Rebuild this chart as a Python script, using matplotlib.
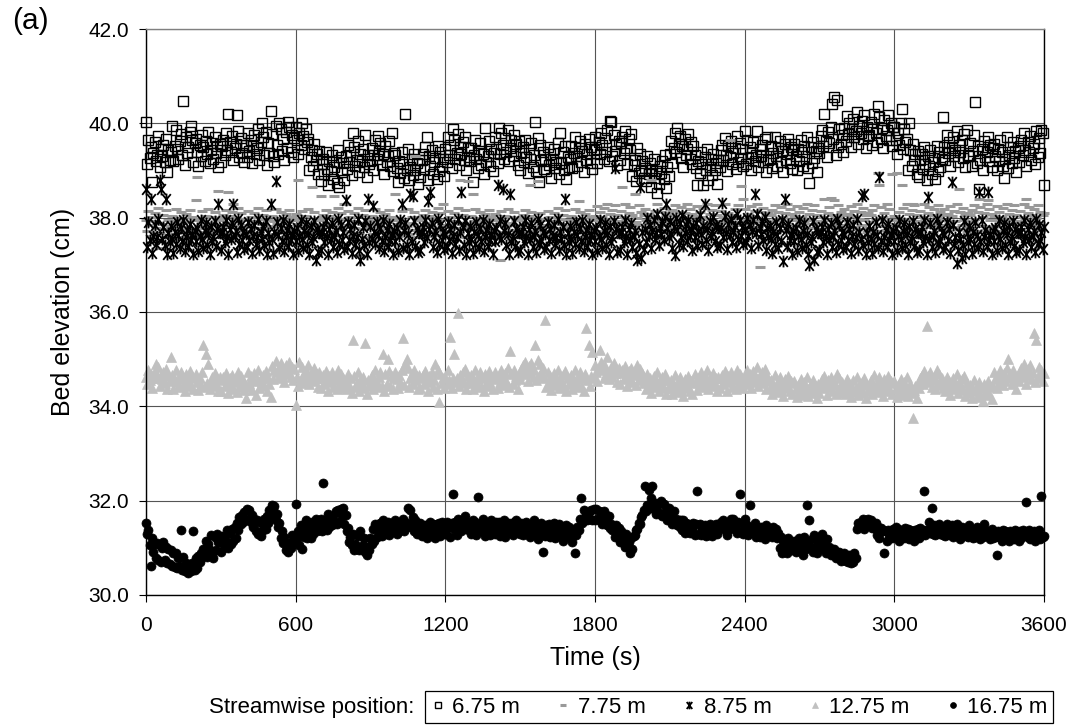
import numpy as np
import matplotlib
matplotlib.use("Agg")
import matplotlib.pyplot as plt
from matplotlib.path import Path
from matplotlib.ticker import FormatStrFormatter

plt.rcParams['font.family'] = ['Liberation Sans', 'DejaVu Sans']

# sampling times (s), one reading every 5 s
time_s = np.arange(0, 3601, 5)

# bed elevation (cm) at each streamwise position, 20 readings (100 s) per row
elev_675 = [
    40.03, 39.13, 39.65, 39.27, 39.50, 38.76, 39.37, 39.60, 39.20, 39.33, 39.73, 39.07, 39.45, 39.30, 39.55, 39.17, 39.67, 38.97, 39.43, 39.23,
    39.40, 39.95, 39.20, 39.52, 39.85, 39.45, 39.25, 39.62, 39.78, 39.32, 40.48, 39.12, 39.72, 39.38, 39.50, 39.82, 39.95, 39.65, 39.18, 39.58,
    39.67, 39.40, 39.10, 39.55, 39.30, 39.75, 39.49, 39.20, 39.63, 39.35, 39.81, 39.15, 39.43, 39.59, 39.25, 39.71, 39.37, 39.51, 39.07, 39.57,
    39.17, 39.53, 39.65, 39.33, 39.79, 39.43, 40.20, 39.61, 39.39, 39.73, 39.23, 39.47, 39.57, 40.18, 39.83, 39.29, 39.69, 39.37, 39.55, 39.19,
    39.55, 39.28, 39.80, 39.42, 39.65, 39.15, 39.52, 39.75, 39.35, 39.48, 39.88, 39.22, 39.60, 40.00, 39.70, 39.32, 39.82, 39.12, 39.58, 39.38,
    40.27, 39.78, 39.30, 39.19, 39.95, 39.55, 39.35, 40.00, 39.88, 39.42, 39.66, 39.22, 39.82, 39.48, 40.02, 39.92, 39.40, 39.75, 39.28, 39.68,
    39.92, 39.65, 39.35, 39.80, 39.55, 40.00, 39.74, 39.45, 39.88, 39.60, 39.66, 39.00, 39.28, 39.44, 39.10, 39.56, 39.22, 39.36, 38.92, 39.42,
    38.77, 39.13, 39.25, 38.93, 39.39, 39.03, 38.69, 39.21, 38.99, 39.33, 38.83, 39.07, 39.17, 38.73, 39.43, 38.65, 39.29, 38.97, 39.15, 38.79,
    39.30, 39.03, 39.55, 39.17, 39.40, 38.90, 39.80, 39.50, 39.10, 39.23, 39.63, 38.97, 39.35, 39.20, 39.45, 39.07, 39.75, 38.87, 39.33, 39.13,
    39.20, 39.48, 39.00, 39.32, 39.65, 39.25, 39.73, 39.42, 39.58, 39.12, 39.36, 38.92, 39.52, 39.18, 39.30, 39.62, 39.10, 39.80, 38.98, 39.38,
    39.32, 39.05, 38.75, 39.20, 38.95, 39.40, 39.14, 38.85, 40.20, 39.00, 39.46, 38.80, 39.08, 39.24, 38.90, 39.36, 39.02, 39.16, 38.72, 39.22,
    38.87, 39.23, 39.35, 39.03, 39.49, 39.70, 38.79, 39.31, 39.09, 39.43, 38.93, 39.17, 39.27, 38.83, 39.53, 38.99, 39.39, 39.07, 39.25, 38.89,
    39.45, 39.18, 39.70, 39.32, 39.55, 39.05, 39.88, 39.65, 39.25, 39.38, 39.78, 39.12, 39.50, 39.35, 39.60, 39.22, 39.72, 39.02, 39.48, 39.28,
    39.20, 39.48, 38.75, 39.32, 39.65, 39.25, 39.05, 39.42, 39.58, 39.12, 39.36, 38.92, 39.90, 39.18, 39.30, 39.62, 39.10, 39.45, 38.98, 39.38,
    39.72, 39.45, 39.15, 39.90, 39.35, 39.80, 39.54, 39.25, 39.68, 39.40, 39.86, 39.20, 39.48, 39.64, 39.30, 39.76, 39.42, 39.56, 39.12, 39.62,
    39.02, 39.38, 39.50, 39.18, 39.64, 39.28, 38.94, 39.46, 39.24, 39.58, 39.08, 39.32, 40.03, 38.98, 39.68, 38.75, 39.54, 39.22, 39.40, 39.04,
    39.25, 38.98, 39.50, 39.12, 39.35, 38.85, 39.22, 39.45, 39.05, 39.18, 39.58, 38.92, 39.80, 39.15, 39.40, 39.02, 39.52, 38.82, 39.28, 39.08,
    39.25, 39.53, 39.05, 39.37, 39.70, 39.30, 39.10, 39.47, 39.63, 39.17, 39.41, 38.97, 39.57, 39.23, 39.35, 39.67, 39.15, 39.50, 39.03, 39.43,
    39.72, 39.45, 39.15, 39.60, 39.35, 39.80, 39.54, 39.25, 39.68, 39.40, 39.86, 39.20, 40.05, 40.03, 39.30, 39.76, 39.42, 39.56, 39.12, 39.62,
    39.22, 39.58, 39.70, 39.38, 39.84, 39.48, 39.14, 39.66, 39.44, 39.78, 38.88, 39.12, 39.22, 38.78, 39.48, 38.94, 39.34, 39.02, 39.20, 38.84,
    39.05, 38.78, 39.30, 38.92, 39.15, 38.65, 39.02, 39.25, 38.85, 38.98, 38.52, 38.72, 39.10, 38.95, 39.20, 38.82, 39.32, 38.62, 39.08, 38.88,
    39.35, 39.63, 39.15, 39.47, 39.80, 39.40, 39.90, 39.57, 39.73, 39.27, 39.51, 39.07, 39.67, 39.33, 39.45, 39.77, 39.25, 39.60, 39.13, 39.53,
    39.32, 39.05, 38.70, 39.20, 38.95, 39.40, 39.14, 38.70, 39.28, 39.00, 39.46, 38.80, 39.08, 39.24, 38.90, 39.36, 39.02, 39.16, 38.72, 39.22,
    39.07, 39.43, 39.55, 39.23, 39.69, 39.33, 38.99, 39.51, 39.29, 39.63, 39.13, 39.37, 39.47, 39.03, 39.73, 39.19, 39.59, 39.27, 39.45, 39.09,
    39.84, 39.13, 39.65, 39.27, 39.50, 39.00, 39.37, 39.60, 39.20, 39.33, 39.84, 39.07, 39.45, 39.30, 39.55, 39.17, 39.67, 38.97, 39.70, 39.23,
    39.25, 39.53, 39.05, 39.37, 39.70, 39.30, 39.10, 39.47, 39.63, 39.17, 39.41, 38.97, 39.57, 39.23, 39.35, 39.67, 39.15, 39.50, 39.03, 39.43,
    39.57, 39.30, 39.00, 39.45, 39.20, 39.65, 39.39, 39.10, 39.53, 39.25, 39.71, 39.05, 38.73, 39.49, 39.15, 39.61, 39.27, 39.41, 38.97, 39.47,
    39.37, 39.73, 39.85, 39.53, 40.20, 39.63, 39.29, 39.81, 39.59, 39.93, 40.40, 39.67, 40.55, 39.33, 40.50, 39.49, 39.89, 39.57, 39.75, 39.39,
    39.90, 39.63, 40.15, 39.77, 40.00, 39.50, 39.87, 40.10, 39.70, 39.83, 40.23, 39.57, 39.95, 39.80, 40.05, 39.67, 40.17, 39.47, 39.93, 39.73,
    39.75, 40.03, 39.55, 39.87, 40.20, 39.80, 39.60, 40.37, 40.13, 39.67, 39.91, 39.47, 40.07, 39.73, 39.85, 40.17, 39.65, 40.00, 39.53, 39.93,
    39.92, 39.65, 39.35, 39.80, 39.55, 40.00, 40.30, 39.45, 39.88, 39.60, 39.66, 39.00, 40.00, 39.44, 39.10, 39.56, 39.22, 39.36, 38.92, 39.42,
    38.87, 39.23, 39.35, 39.03, 39.49, 39.13, 38.79, 39.31, 39.09, 39.43, 38.93, 39.17, 39.27, 38.83, 39.53, 38.99, 39.39, 39.07, 39.25, 40.14,
    39.50, 39.23, 39.75, 39.37, 39.60, 39.10, 39.47, 39.70, 39.30, 39.43, 39.83, 39.17, 39.55, 39.40, 39.65, 39.27, 39.77, 39.07, 39.85, 39.33,
    39.30, 39.58, 39.10, 39.42, 39.75, 40.46, 39.15, 39.52, 38.60, 39.22, 39.46, 39.02, 39.62, 39.28, 39.40, 39.72, 39.20, 39.55, 39.08, 39.48,
    39.57, 39.30, 39.00, 39.45, 39.20, 39.65, 39.39, 39.10, 38.85, 39.25, 39.71, 39.05, 39.33, 39.49, 39.15, 39.61, 39.27, 39.41, 38.97, 39.47,
    39.17, 39.53, 39.65, 39.33, 39.79, 39.43, 39.09, 39.61, 39.39, 39.73, 39.23, 39.47, 39.57, 39.13, 39.83, 39.29, 39.69, 39.37, 39.85, 39.80, 38.70,
]

elev_775 = [
    37.94, 37.72, 38.14, 37.84, 38.02, 37.62, 37.92, 38.10, 37.78, 37.88, 38.20, 37.68, 37.35, 37.86, 38.06, 37.76, 38.16, 37.60, 37.96, 37.80,
    37.82, 38.04, 37.66, 37.92, 38.18, 37.86, 37.70, 38.00, 38.12, 37.76, 37.95, 37.60, 38.08, 37.80, 37.90, 38.16, 37.74, 38.02, 37.64, 37.96,
    38.38, 38.86, 37.62, 37.98, 37.78, 38.14, 37.93, 37.70, 38.04, 37.82, 38.19, 37.66, 37.88, 38.01, 37.74, 38.11, 37.84, 37.95, 38.57, 38.00,
    37.68, 37.96, 38.06, 37.80, 38.17, 37.88, 38.55, 38.03, 37.85, 38.12, 38.30, 37.92, 38.00, 37.64, 38.20, 37.77, 38.09, 37.84, 37.98, 37.69,
    37.94, 37.72, 38.14, 37.84, 38.02, 37.62, 37.92, 38.10, 37.78, 37.88, 38.20, 37.68, 37.98, 37.86, 38.06, 37.76, 38.16, 37.60, 37.96, 37.80,
    37.82, 38.04, 37.66, 37.92, 38.18, 37.86, 37.70, 38.00, 38.12, 37.76, 37.95, 37.60, 38.08, 37.80, 37.90, 38.16, 37.74, 38.02, 37.64, 37.96,
    38.08, 37.86, 38.80, 37.98, 37.78, 38.14, 37.93, 37.70, 38.04, 37.82, 38.19, 37.66, 37.88, 38.65, 37.74, 38.11, 37.84, 37.95, 37.60, 38.00,
    38.45, 37.96, 38.06, 37.80, 38.17, 37.88, 37.61, 38.03, 37.85, 38.12, 37.72, 38.45, 38.00, 37.64, 38.20, 37.77, 38.09, 37.84, 37.98, 38.30,
    38.28, 37.72, 38.14, 37.84, 38.02, 37.62, 37.92, 38.10, 37.78, 37.88, 38.20, 37.68, 37.20, 37.86, 38.06, 37.76, 38.16, 37.60, 37.96, 37.80,
    37.82, 38.04, 37.66, 37.92, 38.18, 37.86, 37.70, 38.00, 38.12, 37.76, 37.95, 37.60, 38.08, 37.80, 37.90, 38.16, 37.74, 38.02, 37.64, 37.96,
    38.50, 37.86, 37.62, 37.98, 37.78, 38.14, 37.93, 37.70, 37.30, 37.82, 38.19, 37.66, 37.88, 38.01, 37.74, 38.11, 39.30, 37.95, 37.60, 38.00,
    37.68, 37.96, 38.06, 37.80, 38.17, 37.88, 37.61, 38.03, 37.85, 38.12, 37.72, 37.92, 38.00, 37.64, 38.20, 37.77, 38.09, 37.84, 38.30, 37.69,
    37.94, 37.72, 38.14, 37.84, 38.02, 37.62, 37.92, 38.10, 37.78, 37.88, 38.20, 37.68, 38.80, 37.86, 38.06, 37.76, 38.16, 37.60, 38.78, 37.80,
    37.82, 38.04, 38.50, 37.92, 38.18, 37.86, 37.70, 38.00, 38.12, 37.76, 37.95, 37.60, 38.08, 37.80, 37.90, 38.16, 37.74, 38.02, 37.64, 37.96,
    38.08, 37.86, 37.62, 37.98, 37.10, 38.14, 37.93, 37.70, 38.04, 37.82, 38.19, 37.66, 37.88, 38.01, 37.74, 38.11, 37.84, 37.95, 37.60, 38.00,
    37.68, 37.96, 38.06, 37.80, 38.17, 37.88, 37.61, 38.03, 38.70, 38.12, 37.72, 37.92, 38.00, 37.64, 38.78, 37.77, 38.09, 37.84, 37.98, 37.69,
    37.94, 37.72, 38.14, 37.84, 38.02, 37.62, 37.92, 38.10, 37.78, 37.88, 38.20, 37.68, 37.98, 37.86, 38.06, 37.76, 38.16, 37.60, 37.96, 37.80,
    37.82, 38.04, 37.66, 37.92, 38.18, 37.86, 37.70, 38.35, 38.12, 37.76, 37.95, 37.60, 38.08, 37.80, 37.90, 38.16, 37.74, 38.02, 37.64, 37.96,
    38.04, 37.82, 38.24, 37.94, 38.12, 37.72, 38.02, 38.20, 37.88, 37.98, 38.30, 37.78, 38.08, 37.96, 38.16, 37.86, 38.26, 37.70, 38.06, 37.90,
    37.92, 38.14, 38.65, 38.02, 38.28, 37.96, 37.80, 38.10, 38.22, 37.86, 38.05, 37.70, 38.50, 37.90, 38.00, 38.26, 37.84, 38.12, 37.74, 38.06,
    38.18, 37.96, 37.72, 38.08, 37.88, 38.80, 38.03, 37.80, 38.14, 37.92, 38.29, 37.76, 37.98, 38.11, 37.84, 38.21, 37.94, 38.05, 37.70, 38.10,
    37.78, 38.06, 38.16, 37.90, 38.27, 37.98, 37.71, 38.13, 37.95, 38.22, 37.82, 38.02, 38.10, 37.74, 38.30, 37.87, 38.19, 37.94, 38.08, 37.79,
    38.04, 37.82, 38.24, 37.94, 38.12, 37.72, 38.02, 38.20, 37.88, 37.98, 38.30, 37.78, 38.08, 37.96, 38.16, 37.86, 38.26, 37.70, 38.06, 37.90,
    37.92, 38.14, 37.76, 38.02, 38.28, 37.96, 37.80, 38.10, 39.65, 37.86, 38.05, 37.70, 38.18, 37.90, 38.00, 38.26, 37.84, 38.67, 37.74, 38.40,
    38.18, 37.96, 37.72, 38.08, 37.88, 38.24, 38.03, 37.80, 38.14, 37.92, 38.29, 37.76, 36.96, 38.11, 37.84, 38.21, 37.94, 38.05, 37.70, 38.10,
    37.78, 38.06, 38.16, 37.90, 38.27, 37.98, 37.71, 38.13, 37.95, 38.22, 37.82, 38.02, 38.10, 37.74, 38.30, 37.87, 38.19, 37.94, 38.08, 37.79,
    38.04, 37.82, 38.24, 37.94, 38.12, 37.72, 38.02, 38.20, 37.88, 37.98, 38.30, 37.78, 38.08, 37.96, 38.16, 37.86, 38.26, 37.70, 38.06, 37.90,
    37.92, 38.14, 37.76, 38.02, 38.40, 37.96, 37.80, 38.10, 38.22, 38.42, 38.05, 37.70, 38.38, 37.90, 38.00, 38.26, 37.84, 38.12, 37.74, 38.06,
    38.18, 37.96, 37.72, 38.08, 37.88, 38.24, 38.03, 37.80, 38.14, 37.92, 38.29, 37.76, 37.98, 38.11, 37.84, 38.21, 37.94, 38.05, 37.70, 38.10,
    37.78, 38.06, 38.16, 37.90, 38.27, 37.98, 37.71, 38.95, 38.70, 38.22, 37.82, 38.02, 38.10, 37.74, 38.30, 37.87, 38.19, 37.94, 38.92, 37.79,
    38.04, 37.82, 38.95, 37.94, 38.12, 37.72, 38.70, 38.20, 37.30, 37.98, 38.30, 37.78, 38.08, 37.96, 38.16, 38.30, 38.26, 37.70, 38.06, 37.90,
    37.92, 38.14, 37.76, 38.02, 38.28, 37.96, 37.80, 38.10, 38.22, 37.86, 38.05, 37.70, 38.18, 37.90, 38.00, 38.26, 37.84, 38.12, 37.74, 38.06,
    38.18, 37.96, 37.72, 38.08, 37.88, 38.24, 38.03, 37.80, 38.14, 37.92, 38.29, 37.76, 38.60, 38.11, 37.84, 38.21, 37.94, 38.05, 37.70, 38.10,
    37.78, 38.06, 38.16, 37.90, 38.27, 37.98, 37.71, 38.13, 38.40, 38.22, 37.82, 38.02, 38.10, 37.74, 38.30, 38.38, 38.19, 37.94, 38.08, 37.79,
    38.04, 37.82, 38.24, 37.94, 38.12, 37.72, 38.02, 38.20, 37.88, 37.98, 38.30, 37.78, 38.08, 37.96, 38.16, 37.86, 38.26, 37.70, 38.06, 37.90,
    37.92, 38.14, 37.76, 38.02, 38.28, 37.96, 38.40, 38.10, 38.22, 37.86, 38.05, 37.70, 38.18, 37.90, 38.00, 38.26, 37.84, 38.12, 37.74, 38.06, 38.10,
]

elev_875 = [
    38.60, 37.38, 37.90, 37.52, 38.40, 37.25, 37.62, 37.85, 37.45, 37.58, 37.98, 38.80, 38.60, 37.55, 37.80, 37.42, 38.40, 37.22, 37.68, 37.48,
    37.82, 37.55, 37.25, 37.70, 37.45, 37.90, 37.64, 37.35, 37.78, 37.50, 37.96, 37.30, 37.58, 37.74, 37.40, 37.86, 37.52, 37.66, 37.22, 37.72,
    37.50, 37.78, 37.30, 37.62, 37.95, 37.55, 37.35, 37.72, 37.88, 37.42, 37.66, 37.22, 37.82, 37.48, 37.60, 37.92, 37.40, 37.75, 38.28, 37.68,
    37.32, 37.68, 37.80, 37.48, 37.94, 37.58, 37.24, 37.76, 37.54, 37.88, 38.30, 37.62, 37.72, 37.28, 37.98, 37.44, 37.84, 37.52, 37.70, 37.34,
    37.65, 37.38, 37.90, 37.52, 37.75, 37.25, 37.62, 37.85, 37.45, 37.58, 37.98, 37.32, 37.70, 37.55, 37.80, 37.42, 37.92, 37.22, 37.68, 37.48,
    38.28, 37.55, 37.25, 37.70, 38.78, 37.90, 37.64, 37.35, 37.78, 37.50, 37.96, 37.30, 37.58, 37.74, 37.40, 37.86, 37.52, 37.66, 37.22, 37.72,
    37.50, 37.78, 37.30, 37.62, 37.95, 37.55, 37.35, 37.72, 37.88, 37.42, 37.66, 37.22, 37.82, 37.48, 37.60, 37.92, 37.10, 37.75, 37.28, 37.68,
    37.32, 37.68, 37.80, 37.48, 37.94, 37.58, 37.24, 37.76, 37.54, 37.88, 37.38, 37.62, 37.72, 37.28, 37.98, 37.44, 37.84, 37.52, 37.70, 37.34,
    38.37, 37.38, 37.90, 37.52, 37.75, 37.25, 37.62, 37.85, 37.45, 37.58, 37.98, 37.32, 37.10, 37.55, 37.80, 37.42, 37.92, 37.22, 38.40, 37.48,
    37.82, 37.55, 38.25, 37.70, 37.45, 37.90, 37.64, 37.35, 37.78, 37.50, 37.96, 37.30, 37.58, 37.74, 37.40, 37.86, 37.52, 37.66, 37.22, 37.72,
    37.50, 37.78, 37.30, 37.62, 37.95, 38.30, 37.35, 37.72, 37.88, 37.42, 37.66, 37.22, 38.50, 37.48, 38.45, 37.92, 37.40, 37.75, 37.28, 37.68,
    37.32, 37.68, 37.80, 37.48, 37.94, 37.58, 38.35, 37.76, 38.55, 37.88, 37.38, 37.62, 37.72, 37.28, 37.98, 37.44, 37.84, 37.52, 37.70, 37.34,
    37.65, 37.38, 37.90, 37.52, 37.75, 37.25, 37.62, 37.85, 37.45, 37.58, 37.98, 37.32, 37.70, 38.55, 37.80, 37.42, 37.92, 37.22, 37.68, 37.48,
    37.82, 37.55, 37.25, 37.70, 37.45, 37.90, 37.64, 37.35, 37.78, 37.50, 37.96, 37.30, 37.58, 37.74, 37.40, 37.86, 37.52, 37.66, 37.22, 37.72,
    37.50, 37.78, 38.70, 37.62, 37.95, 37.55, 38.60, 37.72, 37.88, 37.42, 37.66, 37.22, 38.50, 37.48, 37.60, 37.92, 37.40, 37.75, 37.28, 37.68,
    37.32, 37.68, 37.80, 37.48, 37.94, 37.58, 37.24, 37.76, 37.54, 37.88, 37.38, 37.62, 37.72, 37.28, 37.98, 37.44, 37.84, 37.52, 37.70, 37.34,
    37.65, 37.38, 37.90, 37.52, 37.75, 37.25, 37.62, 37.85, 37.45, 37.58, 37.98, 37.32, 37.70, 37.55, 37.80, 37.42, 38.40, 37.22, 37.68, 37.48,
    37.82, 37.55, 37.25, 37.70, 37.45, 37.90, 37.64, 37.35, 37.78, 37.50, 37.96, 37.30, 37.58, 37.74, 37.40, 37.86, 37.52, 37.66, 37.22, 37.72,
    37.50, 37.78, 37.30, 37.62, 37.95, 37.55, 37.35, 37.72, 37.88, 37.42, 37.66, 37.22, 37.82, 37.48, 37.60, 37.92, 39.05, 37.75, 37.28, 37.68,
    37.32, 37.68, 37.80, 37.48, 37.94, 37.58, 37.24, 37.76, 37.54, 37.88, 37.38, 37.62, 37.72, 37.25, 37.10, 37.44, 38.66, 37.15, 37.70, 37.34,
    37.75, 37.48, 38.00, 37.62, 37.85, 37.35, 37.72, 37.95, 37.55, 37.68, 38.08, 37.42, 37.80, 37.65, 37.90, 37.52, 38.02, 38.30, 37.78, 37.58,
    37.92, 37.65, 37.35, 37.80, 37.20, 38.00, 37.74, 37.45, 37.88, 37.60, 38.06, 37.40, 37.68, 37.84, 37.50, 37.96, 37.62, 37.76, 37.32, 37.82,
    37.60, 37.88, 37.40, 37.72, 38.05, 37.65, 37.45, 37.82, 38.30, 37.52, 37.76, 37.32, 37.92, 37.58, 37.70, 38.02, 37.50, 37.85, 37.38, 37.78,
    37.42, 37.78, 38.32, 37.58, 38.04, 37.68, 37.34, 37.86, 37.64, 37.98, 37.48, 37.72, 37.82, 37.38, 38.08, 37.54, 37.94, 37.62, 37.80, 37.44,
    37.75, 37.48, 38.00, 37.62, 37.85, 37.35, 37.72, 37.95, 38.50, 37.68, 38.08, 37.42, 37.80, 37.65, 37.90, 37.52, 38.02, 37.32, 37.78, 37.58,
    37.82, 37.55, 37.25, 37.70, 37.45, 37.90, 37.64, 37.35, 37.78, 37.50, 37.96, 37.08, 38.40, 37.74, 37.40, 37.86, 37.52, 37.66, 37.22, 37.72,
    37.50, 37.78, 37.30, 37.62, 37.95, 37.55, 37.35, 37.72, 37.88, 37.42, 37.66, 37.22, 37.00, 37.48, 37.60, 37.92, 37.10, 37.75, 37.28, 37.68,
    37.32, 37.68, 37.80, 37.48, 37.94, 37.58, 37.24, 37.76, 37.54, 37.88, 37.38, 37.62, 37.72, 37.28, 37.98, 37.44, 37.84, 37.52, 37.70, 37.34,
    37.65, 37.38, 37.90, 37.52, 37.75, 37.25, 37.62, 37.85, 37.45, 37.58, 37.98, 37.32, 37.70, 37.55, 38.45, 37.42, 38.50, 37.22, 37.68, 37.48,
    37.82, 37.55, 37.25, 37.70, 37.45, 37.90, 37.64, 37.35, 38.87, 37.50, 37.96, 37.30, 37.58, 37.74, 37.40, 37.86, 37.52, 37.66, 37.22, 37.72,
    37.50, 37.78, 37.30, 37.62, 37.95, 37.55, 37.35, 37.72, 37.88, 37.42, 37.66, 37.22, 37.82, 37.48, 37.60, 37.92, 37.40, 37.75, 37.28, 37.68,
    37.32, 37.68, 37.80, 37.48, 37.94, 37.58, 37.24, 38.44, 37.54, 37.88, 37.38, 37.62, 37.72, 37.28, 37.98, 37.44, 37.84, 37.52, 37.70, 37.34,
    37.65, 37.38, 37.90, 37.52, 37.75, 37.25, 38.76, 37.85, 37.45, 37.58, 37.03, 37.32, 37.70, 37.55, 37.15, 37.42, 37.92, 37.22, 37.68, 37.48,
    37.82, 37.55, 37.25, 37.70, 37.45, 37.90, 37.64, 37.35, 38.55, 37.50, 37.96, 37.30, 37.58, 37.74, 37.40, 38.55, 37.52, 37.66, 37.22, 37.72,
    37.50, 37.78, 37.30, 37.62, 37.95, 37.55, 37.35, 37.72, 37.88, 37.42, 37.66, 37.22, 37.82, 37.48, 37.60, 37.92, 37.40, 37.75, 37.28, 37.68,
    37.32, 37.68, 37.80, 37.48, 37.94, 37.58, 37.24, 37.76, 37.54, 37.88, 37.38, 37.62, 37.72, 37.28, 37.98, 37.44, 37.84, 37.52, 37.70, 37.34, 37.80,
]

elev_1275 = [
    34.63, 34.47, 34.78, 34.55, 34.69, 34.39, 34.61, 34.75, 34.90, 34.59, 34.83, 34.43, 34.66, 34.57, 34.72, 34.49, 34.79, 34.37, 34.65, 34.53,
    35.05, 34.66, 34.37, 34.56, 34.76, 34.52, 34.40, 34.62, 34.72, 34.44, 34.59, 34.32, 34.68, 34.48, 34.55, 34.74, 34.43, 34.64, 34.36, 34.60,
    34.68, 34.52, 34.34, 34.61, 34.46, 34.73, 35.30, 34.40, 35.10, 34.49, 34.90, 34.37, 34.54, 34.63, 34.43, 34.71, 34.50, 34.59, 34.32, 34.62,
    34.33, 34.55, 34.62, 34.43, 34.70, 34.49, 34.28, 34.60, 34.46, 34.67, 34.37, 34.51, 34.57, 34.31, 34.73, 34.40, 34.64, 34.45, 34.56, 34.34,
    34.17, 34.42, 34.73, 34.50, 34.64, 34.34, 34.56, 34.70, 34.25, 34.54, 34.78, 34.38, 34.61, 34.52, 34.67, 34.44, 34.74, 34.32, 34.60, 34.48,
    34.20, 34.86, 34.57, 34.76, 34.96, 34.72, 34.60, 34.82, 34.92, 34.64, 34.79, 34.52, 34.88, 34.68, 34.75, 34.94, 34.63, 34.84, 34.56, 34.80,
    34.03, 34.62, 34.44, 34.95, 34.56, 34.83, 34.67, 34.50, 34.76, 34.59, 34.87, 34.47, 34.64, 34.73, 34.53, 34.81, 34.60, 34.69, 34.42, 34.72,
    34.38, 34.60, 34.67, 34.48, 34.75, 34.54, 34.33, 34.65, 34.51, 34.72, 34.42, 34.56, 34.62, 34.36, 34.78, 34.45, 34.69, 34.50, 34.61, 34.39,
    34.53, 34.37, 34.68, 34.45, 34.59, 34.29, 35.40, 34.65, 34.41, 34.49, 34.73, 34.33, 34.56, 34.47, 34.62, 34.39, 35.35, 34.27, 34.55, 34.43,
    34.49, 34.66, 34.37, 34.56, 34.76, 34.52, 34.40, 34.62, 34.72, 34.44, 35.10, 34.32, 34.68, 34.48, 35.00, 34.74, 34.43, 34.64, 34.36, 34.60,
    34.73, 34.57, 34.39, 34.66, 34.51, 34.78, 35.45, 34.45, 34.90, 35.00, 34.82, 34.42, 34.59, 34.68, 34.48, 34.76, 34.55, 34.64, 34.37, 34.67,
    34.38, 34.60, 34.67, 34.48, 34.75, 34.54, 34.33, 34.65, 34.51, 34.72, 34.42, 34.56, 34.90, 34.36, 34.78, 34.09, 34.69, 34.50, 34.61, 34.39,
    34.63, 34.47, 34.78, 34.55, 35.47, 34.39, 34.61, 35.10, 34.51, 34.59, 35.98, 34.43, 34.66, 34.57, 34.72, 34.49, 34.79, 34.37, 34.65, 34.53,
    34.49, 34.66, 34.37, 34.56, 34.76, 34.52, 34.40, 34.62, 34.72, 34.44, 34.59, 34.32, 34.68, 34.48, 34.55, 34.74, 34.43, 34.64, 34.36, 34.60,
    34.73, 34.57, 34.39, 34.66, 34.51, 34.78, 34.62, 34.45, 34.71, 34.54, 34.82, 34.42, 35.17, 34.68, 34.48, 34.76, 34.55, 34.64, 34.37, 34.67,
    34.58, 34.80, 34.87, 34.68, 34.95, 34.74, 34.53, 34.85, 34.71, 34.92, 34.62, 34.76, 35.30, 34.56, 34.98, 34.65, 34.89, 34.70, 34.81, 34.59,
    35.83, 34.42, 34.73, 34.50, 34.64, 34.34, 34.56, 34.70, 34.46, 34.54, 34.78, 34.38, 34.61, 34.52, 34.67, 34.44, 34.74, 34.32, 34.60, 34.48,
    34.49, 34.66, 34.37, 34.56, 34.76, 34.52, 34.40, 34.62, 34.72, 34.44, 34.59, 34.32, 34.68, 35.66, 34.55, 35.30, 34.43, 34.64, 35.15, 34.60,
    34.88, 34.72, 34.54, 34.81, 35.20, 34.93, 34.77, 34.60, 34.86, 34.69, 35.05, 34.57, 34.74, 34.83, 34.63, 34.91, 34.70, 34.79, 34.52, 34.82,
    34.48, 34.70, 34.77, 34.58, 34.85, 34.64, 34.43, 34.75, 34.61, 34.82, 34.52, 34.66, 34.72, 34.46, 34.88, 34.55, 34.79, 34.60, 34.71, 34.49,
    34.53, 34.37, 34.68, 34.45, 34.59, 34.29, 34.51, 34.65, 34.41, 34.49, 34.73, 34.33, 34.56, 34.47, 34.62, 34.39, 34.69, 34.27, 34.55, 34.43,
    34.39, 34.56, 34.27, 34.46, 34.66, 34.42, 34.30, 34.52, 34.62, 34.34, 34.49, 34.22, 34.58, 34.38, 34.45, 34.64, 34.33, 34.54, 34.26, 34.50,
    34.68, 34.52, 34.34, 34.61, 34.46, 34.73, 34.57, 34.40, 34.66, 34.49, 34.77, 34.37, 34.54, 34.63, 34.43, 34.71, 34.50, 34.59, 34.32, 34.62,
    34.38, 34.60, 34.67, 34.48, 34.75, 34.54, 34.33, 34.65, 34.51, 34.72, 34.42, 34.56, 34.62, 34.36, 34.78, 34.45, 34.69, 34.50, 34.61, 34.39,
    34.63, 34.47, 34.78, 34.55, 34.69, 34.39, 34.61, 34.75, 34.51, 34.59, 34.83, 34.43, 34.66, 34.57, 34.72, 34.49, 34.79, 34.37, 34.65, 34.53,
    34.39, 34.56, 34.27, 34.46, 34.66, 34.42, 34.30, 34.52, 34.62, 34.34, 34.49, 34.22, 34.58, 34.38, 34.45, 34.64, 34.33, 34.54, 34.26, 34.50,
    34.53, 34.37, 34.19, 34.46, 34.31, 34.58, 34.42, 34.25, 34.51, 34.34, 34.62, 34.22, 34.39, 34.48, 34.28, 34.56, 34.35, 34.44, 34.17, 34.47,
    34.28, 34.50, 34.57, 34.38, 34.65, 34.44, 34.23, 34.55, 34.41, 34.62, 34.32, 34.46, 34.52, 34.26, 34.68, 34.35, 34.59, 34.40, 34.51, 34.29,
    34.43, 34.27, 34.58, 34.35, 34.49, 34.19, 34.41, 34.55, 34.31, 34.39, 34.63, 34.23, 34.46, 34.37, 34.52, 34.29, 34.59, 34.17, 34.45, 34.33,
    34.39, 34.56, 34.27, 34.46, 34.66, 34.42, 34.30, 34.52, 34.62, 34.34, 34.49, 34.22, 34.58, 34.38, 34.45, 34.64, 34.33, 34.54, 34.26, 34.50,
    34.53, 34.37, 34.19, 34.46, 34.31, 34.58, 34.42, 34.25, 34.51, 34.34, 34.62, 34.22, 34.39, 34.48, 34.28, 33.75, 34.35, 34.44, 34.17, 34.47,
    34.38, 34.60, 34.67, 34.48, 34.75, 34.54, 35.70, 34.65, 34.51, 34.72, 34.42, 34.56, 34.62, 34.36, 34.78, 34.45, 34.69, 34.50, 34.61, 34.39,
    34.48, 34.32, 34.63, 34.40, 34.54, 34.24, 34.46, 34.60, 34.36, 34.44, 34.68, 34.28, 34.51, 34.42, 34.57, 34.34, 34.64, 34.22, 34.50, 34.38,
    34.29, 34.46, 34.17, 34.36, 34.56, 34.32, 34.20, 34.42, 34.52, 34.24, 34.39, 34.12, 34.48, 34.28, 34.35, 34.54, 34.23, 34.44, 34.16, 34.40,
    34.73, 34.57, 34.39, 34.66, 34.51, 34.78, 34.62, 34.45, 34.71, 34.54, 34.82, 35.00, 34.59, 34.68, 34.48, 34.76, 34.55, 34.64, 34.37, 34.67,
    34.53, 34.75, 34.82, 34.63, 34.90, 34.69, 34.48, 34.80, 34.66, 34.87, 34.57, 34.71, 35.55, 34.51, 35.40, 34.60, 34.84, 34.65, 34.76, 34.54, 34.70,
]

elev_1675 = [
    31.52, 31.30, 31.38, 31.05, 30.62, 31.20, 30.92, 31.08, 30.78, 31.10, 30.75, 31.05, 30.70, 31.00, 31.12, 30.75, 31.02, 30.68, 30.98, 30.65,
    30.95, 30.62, 30.90, 30.60, 30.88, 30.58, 30.78, 30.62, 31.38, 30.52, 30.80, 30.50, 30.68, 30.55, 30.47, 30.62, 30.50, 30.68, 31.36, 30.52,
    30.78, 30.58, 30.82, 30.70, 30.90, 30.80, 30.98, 30.85, 31.15, 30.80, 31.08, 30.95, 31.28, 30.90, 30.78, 31.22, 30.95, 31.30, 31.12, 31.20,
    30.92, 31.25, 31.08, 31.18, 31.02, 31.38, 31.00, 31.32, 31.08, 31.40, 31.15, 31.45, 31.20, 31.52, 31.38, 31.65, 31.50, 31.70, 31.55, 31.75,
    31.60, 31.82, 31.58, 31.80, 31.55, 31.70, 31.45, 31.62, 31.35, 31.58, 31.30, 31.55, 31.25, 31.52, 31.38, 31.62, 31.40, 31.68, 31.52, 31.80,
    31.68, 31.90, 31.80, 31.88, 31.60, 31.72, 31.45, 31.52, 31.20, 31.35, 31.10, 31.22, 30.95, 31.08, 30.92, 31.10, 31.00, 31.28, 31.12, 31.25,
    31.92, 31.20, 31.35, 31.05, 31.48, 30.98, 31.38, 31.22, 31.58, 31.20, 31.32, 31.48, 31.20, 31.55, 31.30, 31.45, 31.62, 31.35, 31.52, 31.40,
    31.62, 31.35, 32.37, 31.45, 31.60, 31.38, 31.72, 31.45, 31.62, 31.48, 31.68, 31.52, 31.78, 31.50, 31.80, 31.55, 31.82, 31.68, 31.85, 31.50,
    31.70, 31.35, 31.42, 31.12, 31.22, 31.05, 31.30, 30.95, 31.08, 30.98, 31.25, 30.95, 31.35, 30.98, 31.05, 31.20, 30.92, 30.85, 31.02, 30.95,
    31.20, 31.08, 31.40, 31.15, 31.50, 31.22, 31.38, 31.25, 31.52, 31.25, 31.60, 31.30, 31.45, 31.35, 31.55, 31.28, 31.42, 31.35, 31.52, 31.38,
    31.58, 31.30, 31.48, 31.35, 31.52, 31.40, 31.62, 31.35, 31.55, 31.45, 31.85, 31.50, 31.80, 31.45, 31.65, 31.35, 31.58, 31.30, 31.45, 31.32,
    31.52, 31.25, 31.38, 31.30, 31.48, 31.20, 31.42, 31.32, 31.55, 31.25, 31.50, 31.38, 31.20, 31.50, 31.38, 31.52, 31.25, 31.55, 31.32, 31.48,
    31.30, 31.55, 31.42, 31.50, 31.22, 31.52, 32.14, 31.40, 31.55, 31.28, 31.62, 31.38, 31.48, 31.35, 31.58, 31.45, 31.68, 31.40, 31.52, 31.38,
    31.45, 31.30, 31.58, 31.35, 31.55, 31.28, 32.08, 31.40, 31.50, 31.35, 31.62, 31.38, 31.25, 31.50, 31.38, 31.52, 31.28, 31.58, 31.35, 31.50,
    31.30, 31.55, 31.42, 31.55, 31.25, 31.50, 31.35, 31.58, 31.22, 31.48, 31.38, 31.52, 31.32, 31.45, 31.28, 31.55, 31.45, 31.58, 31.35, 31.50,
    31.30, 31.52, 31.28, 31.50, 31.40, 31.55, 31.32, 31.48, 31.22, 31.50, 31.35, 31.58, 31.28, 31.42, 31.18, 31.45, 31.30, 31.52, 30.92, 31.42,
    31.25, 31.48, 31.35, 31.50, 31.22, 31.45, 31.30, 31.52, 31.20, 31.45, 31.35, 31.50, 31.28, 31.40, 31.15, 31.38, 31.25, 31.48, 31.32, 31.45,
    31.22, 31.35, 31.12, 31.38, 30.90, 31.28, 31.45, 31.38, 31.62, 32.06, 31.52, 31.80, 31.58, 31.70, 31.60, 31.75, 31.62, 31.80, 31.58, 31.82,
    31.60, 31.82, 31.62, 31.78, 31.60, 31.75, 31.50, 31.78, 31.58, 31.70, 31.48, 31.68, 31.42, 31.50, 31.38, 31.45, 31.22, 31.48, 31.35, 31.42,
    31.12, 31.35, 31.22, 31.25, 31.02, 31.30, 31.15, 31.12, 30.90, 31.20, 30.98, 31.25, 31.28, 31.38, 31.40, 31.52, 31.50, 31.65, 31.70, 31.80,
    32.30, 31.78, 31.90, 32.22, 31.85, 32.05, 32.32, 31.82, 31.95, 31.72, 31.80, 31.95, 31.72, 32.00, 31.68, 31.92, 31.72, 31.80, 31.58, 31.85,
    31.65, 31.75, 31.50, 31.78, 31.55, 31.62, 31.48, 31.60, 31.45, 31.58, 31.38, 31.60, 31.32, 31.52, 31.40, 31.50, 31.32, 31.45, 31.40, 31.52,
    31.28, 31.50, 32.20, 31.30, 31.50, 31.28, 31.40, 31.30, 31.48, 31.25, 31.35, 31.28, 31.50, 31.38, 31.25, 31.45, 31.38, 31.50, 31.30, 31.40,
    31.42, 31.55, 31.45, 31.58, 31.38, 31.50, 31.28, 31.50, 31.40, 31.62, 31.50, 31.62, 31.45, 31.55, 31.32, 31.55, 32.14, 31.35, 31.52, 31.30,
    31.62, 31.40, 31.48, 31.28, 31.90, 31.35, 31.45, 31.38, 31.52, 31.22, 31.30, 31.42, 31.22, 31.45, 31.30, 31.40, 31.18, 31.48, 31.35, 31.42,
    31.28, 31.38, 31.22, 31.45, 31.32, 31.40, 31.20, 31.32, 31.00, 31.22, 30.90, 31.15, 31.02, 31.08, 30.90, 31.20, 31.05, 31.12, 30.95, 31.05,
    31.15, 30.92, 31.05, 31.00, 31.20, 30.95, 31.08, 30.85, 31.22, 30.98, 31.90, 31.08, 31.60, 31.00, 31.18, 30.92, 31.28, 31.02, 30.90, 31.12,
    31.22, 30.98, 31.30, 31.02, 31.12, 30.88, 31.18, 30.92, 31.02, 30.85, 30.98, 30.88, 30.98, 30.78, 30.88, 30.82, 30.92, 30.72, 30.82, 30.75,
    30.90, 30.72, 30.80, 30.70, 30.85, 30.68, 30.75, 30.70, 30.90, 30.78, 31.40, 31.52, 31.45, 31.55, 31.50, 31.62, 31.40, 31.58, 31.52, 31.62,
    31.48, 31.58, 31.42, 31.50, 31.42, 31.52, 31.28, 31.45, 31.20, 31.42, 31.35, 31.38, 30.90, 31.35, 31.15, 31.38, 31.28, 31.32, 31.20, 31.40,
    31.22, 31.45, 31.38, 31.40, 31.15, 31.38, 31.28, 31.35, 31.20, 31.42, 31.32, 31.40, 31.18, 31.38, 31.25, 31.35, 31.15, 31.38, 31.30, 31.40,
    31.20, 31.42, 31.28, 31.38, 32.20, 31.28, 31.38, 31.35, 31.55, 31.32, 31.85, 31.30, 31.48, 31.28, 31.42, 31.35, 31.50, 31.30, 31.38, 31.28,
    31.45, 31.25, 31.50, 31.32, 31.40, 31.28, 31.48, 31.22, 31.42, 31.30, 31.50, 31.28, 31.38, 31.18, 31.45, 31.25, 31.35, 31.28, 31.42, 31.22,
    31.48, 31.28, 31.40, 31.20, 31.32, 31.22, 31.45, 31.25, 31.38, 31.18, 31.42, 31.22, 31.50, 31.30, 31.35, 31.25, 31.28, 31.18, 31.40, 31.20,
    31.32, 31.22, 30.85, 31.35, 31.22, 31.32, 31.15, 31.38, 31.28, 31.35, 31.20, 31.30, 31.15, 31.35, 31.25, 31.32, 31.18, 31.38, 31.22, 31.30,
    31.15, 31.35, 31.20, 31.38, 31.28, 31.32, 31.97, 31.22, 31.38, 31.18, 31.32, 31.22, 31.35, 31.15, 31.28, 31.20, 31.38, 31.18, 32.10, 31.22, 31.25,
]

position_labels = ["6.75 m", "7.75 m", "8.75 m", "12.75 m", "16.75 m"]

# asterisk marker: an X with a vertical bar through it
asterisk = Path([(-0.8, -1), (0.8, 1), (-0.8, 1), (0.8, -1), (0, -1.1), (0, 1.1)],
                [Path.MOVETO, Path.LINETO] * 3)

styles = [
    dict(marker="s", ms=6.5, mfc="none", mec="black", mew=1.0),
    dict(marker="_", ms=6.5, mec="#999999", mew=2.2),
    dict(marker=asterisk, ms=8.5, mec="black", mew=1.3),
    dict(marker="^", ms=7, mfc="#c0c0c0", mec="#c0c0c0", mew=0.5),
    dict(marker="o", ms=6.5, mfc="black", mec="black", mew=0.5),
]

fig = plt.figure(figsize=(10.74, 7.27), dpi=100)
ax = fig.add_axes([0.1359, 0.1816, 0.8361, 0.7785])

for label, vals, style in zip(position_labels,
                              [elev_675, elev_775, elev_875, elev_1275, elev_1675],
                              styles):
    ax.plot(time_s, vals, linestyle="none", label=label, clip_on=False, **style)

ax.set_xlim(0, 3600)
ax.set_ylim(30, 42)
ax.set_xticks(range(0, 3601, 600))
ax.set_yticks(np.arange(30, 42.1, 2))
ax.yaxis.set_major_formatter(FormatStrFormatter("%.1f"))
ax.grid(True, color="#555555", lw=0.8)
ax.set_axisbelow(True)
ax.tick_params(direction="out", length=5, width=0.8, labelsize=15, colors="black")
ax.tick_params(axis="y", pad=7)
ax.tick_params(axis="x", pad=10)
for side in ["left", "bottom", "right"]:
    ax.spines[side].set_color("black")
    ax.spines[side].set_linewidth(1.0)
ax.spines["top"].set_color("#808080")
ax.spines["top"].set_linewidth(1.0)

ax.set_xlabel("Time (s)", fontsize=18, labelpad=8)
ax.set_ylabel("Bed elevation (cm)", fontsize=18, labelpad=10)

fig.text(0.011, 0.99, "(a)", fontsize=21.5, ha="left", va="top")

leg = fig.legend(loc="center", bbox_to_anchor=(0.688, 0.027), ncol=5, fontsize=16,
                 frameon=True, fancybox=False, edgecolor="black", framealpha=1,
                 handlelength=0.7, handletextpad=0.3, columnspacing=1.6,
                 borderpad=0.25, markerscale=0.65)
leg.get_frame().set_linewidth(0.9)
fig.text(0.386, 0.027, "Streamwise position:", fontsize=16, ha="right", va="center")

fig.savefig("out.png", dpi=100)
